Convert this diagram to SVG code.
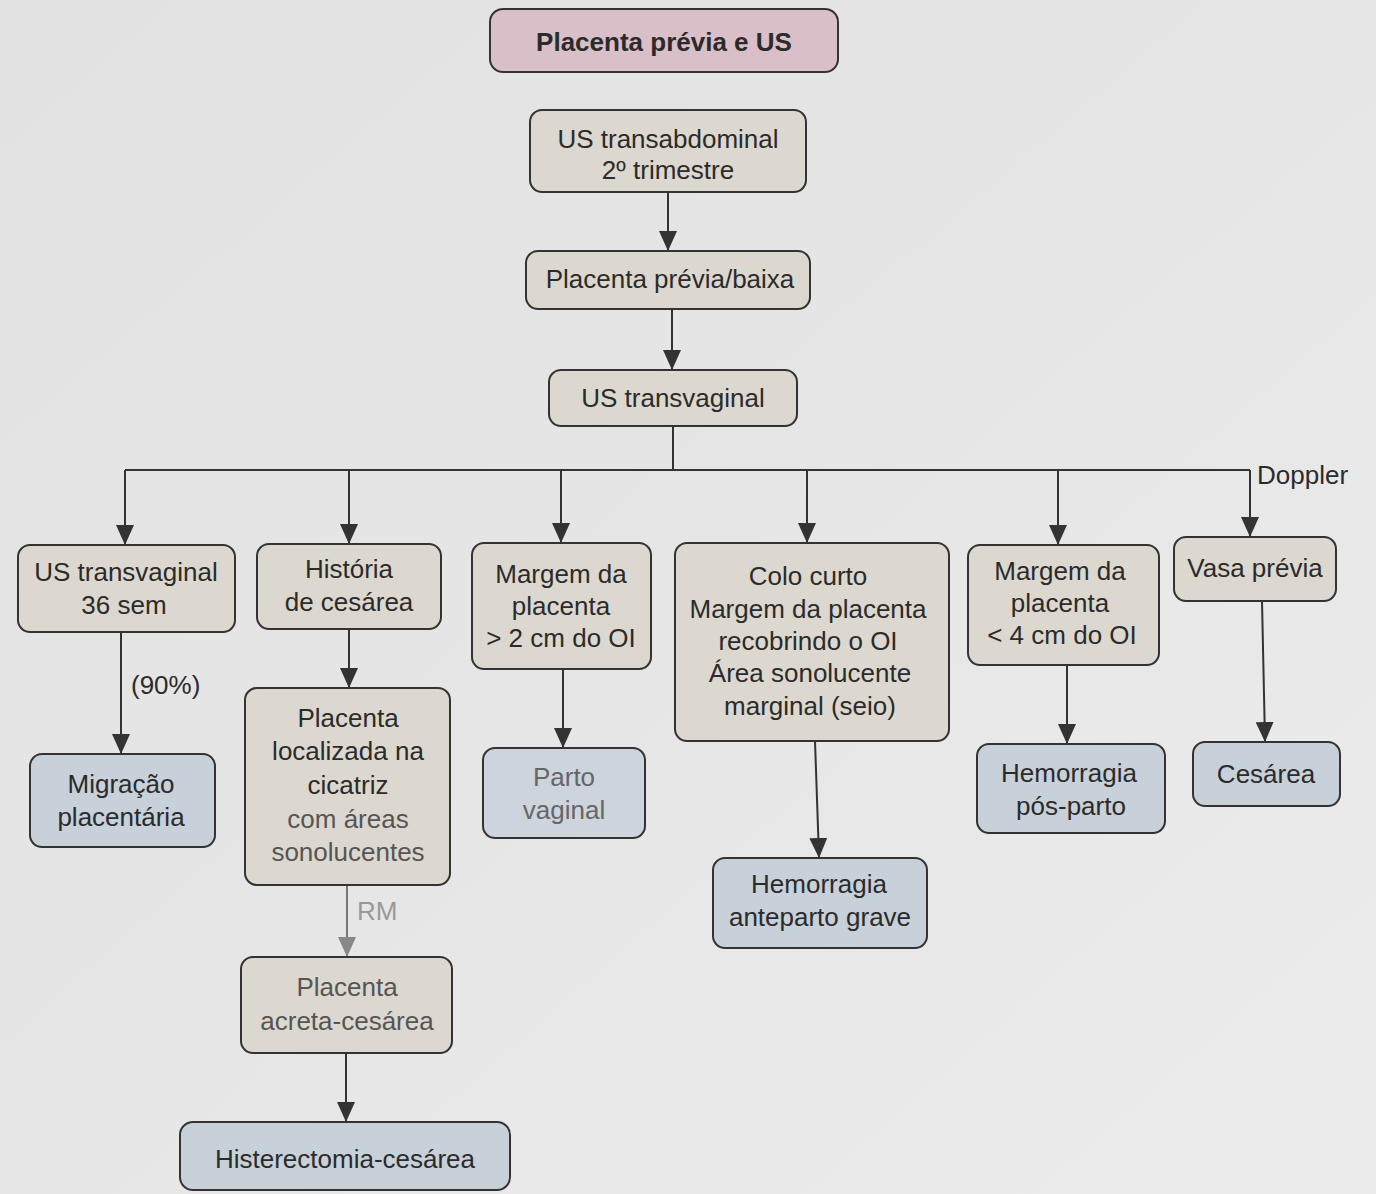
<svg xmlns="http://www.w3.org/2000/svg" width="1376" height="1194" viewBox="0 0 1376 1194">
<defs>
<marker id="ah" markerUnits="userSpaceOnUse" markerWidth="20" markerHeight="18" viewBox="0 0 20 18" refX="19" refY="9" orient="auto">
<path d="M0,0 L20,9 L0,18 Z" fill="#333"/>
</marker>
<marker id="ahg" markerUnits="userSpaceOnUse" markerWidth="20" markerHeight="18" viewBox="0 0 20 18" refX="19" refY="9" orient="auto">
<path d="M0,0 L20,9 L0,18 Z" fill="#888"/>
</marker>
<linearGradient id="bg" x1="0" y1="0" x2="1" y2="1">
<stop offset="0" stop-color="#e2e2e2"/>
<stop offset="0.5" stop-color="#e6e6e7"/>
<stop offset="1" stop-color="#ececec"/>
</linearGradient>
</defs>
<style>
text{font-family:"Liberation Sans",Arial,sans-serif;font-size:26px;fill:#2b2b2b;text-anchor:middle}
.box{fill:#dcd8cf;stroke:#333;stroke-width:2}
.blue{fill:#c8d0da;stroke:#333;stroke-width:2}
.title{fill:#d8bfc8;stroke:#333;stroke-width:2}
.tt{font-weight:bold;font-size:26px}
.lbl{text-anchor:start}
.conn{fill:none;stroke:#333;stroke-width:2}
.fade{fill:#555}
</style>
<rect width="1376" height="1194" fill="url(#bg)"/>

<g id="connectors">
<path class="conn" d="M668,192 V250" marker-end="url(#ah)"/>
<path class="conn" d="M672,309 V369" marker-end="url(#ah)"/>
<path class="conn" d="M673,426 V470"/>
<path class="conn" d="M125,470 H1250"/>
<path class="conn" d="M125,470 V544" marker-end="url(#ah)"/>
<path class="conn" d="M349,470 V543" marker-end="url(#ah)"/>
<path class="conn" d="M561,470 V542" marker-end="url(#ah)"/>
<path class="conn" d="M807,470 V542" marker-end="url(#ah)"/>
<path class="conn" d="M1058,470 V544" marker-end="url(#ah)"/>
<path class="conn" d="M1250,470 V536" marker-end="url(#ah)"/>
<path class="conn" d="M121,632 V753" marker-end="url(#ah)"/>
<path class="conn" d="M349,629 V687" marker-end="url(#ah)"/>
<path class="conn" d="M347,885 V956" style="stroke:#777" marker-end="url(#ahg)"/>
<path class="conn" d="M346,1053 V1121" marker-end="url(#ah)"/>
<path class="conn" d="M563,669 V747" marker-end="url(#ah)"/>
<path class="conn" d="M815,741 L819,857" marker-end="url(#ah)"/>
<path class="conn" d="M1067,665 V743" marker-end="url(#ah)"/>
<path class="conn" d="M1262,601 L1265,741" marker-end="url(#ah)"/>
<text class="lbl" x="1257" y="484">Doppler</text>
<text class="lbl" x="131" y="694">(90%)</text>
<text class="lbl" x="357" y="920" style="fill:#999">RM</text>
</g>

<g id="title">
<rect class="title" x="490" y="9" width="348" height="63" rx="13"/>
<text class="tt" x="664" y="51">Placenta prévia e US</text>
</g>
<g id="n-us-transabdominal">
<rect class="box" x="530" y="110" width="276" height="82" rx="12"/>
<text x="668" y="148">US transabdominal</text>
<text x="668" y="179">2º trimestre</text>
</g>
<g id="n-placenta-previa-baixa">
<rect class="box" x="526" y="251" width="284" height="58" rx="12"/>
<text x="670" y="288">Placenta prévia/baixa</text>
</g>
<g id="n-us-transvaginal">
<rect class="box" x="549" y="370" width="248" height="56" rx="12"/>
<text x="673" y="407">US transvaginal</text>
</g>
<g id="n-us-36">
<rect class="box" x="18" y="545" width="217" height="87" rx="12"/>
<text x="126" y="581">US transvaginal</text>
<text x="124" y="614">36 sem</text>
</g>
<g id="n-historia">
<rect class="box" x="257" y="544" width="184" height="85" rx="12"/>
<text x="349" y="578">História</text>
<text x="349" y="611">de cesárea</text>
</g>
<g id="n-margem-2cm">
<rect class="box" x="472" y="543" width="179" height="126" rx="12"/>
<text x="561" y="583">Margem da</text>
<text x="561" y="615">placenta</text>
<text x="561" y="647">&gt; 2 cm do OI</text>
</g>
<g id="n-colo-curto">
<rect class="box" x="675" y="543" width="274" height="198" rx="12"/>
<text x="808" y="585">Colo curto</text>
<text x="808" y="618">Margem da placenta</text>
<text x="808" y="650">recobrindo o OI</text>
<text x="810" y="682">Área sonolucente</text>
<text x="810" y="715">marginal (seio)</text>
</g>
<g id="n-margem-4cm">
<rect class="box" x="968" y="545" width="191" height="120" rx="12"/>
<text x="1060" y="580">Margem da</text>
<text x="1060" y="612">placenta</text>
<text x="1062" y="644">&lt; 4 cm do OI</text>
</g>
<g id="n-vasa-previa">
<rect class="box" x="1174" y="537" width="162" height="64" rx="12"/>
<text x="1255" y="577">Vasa prévia</text>
</g>
<g id="n-migracao">
<rect class="blue" x="30" y="754" width="185" height="93" rx="12"/>
<text x="121" y="793">Migração</text>
<text x="121" y="826">placentária</text>
</g>
<g id="n-placenta-localizada">
<rect class="box" x="245" y="688" width="205" height="197" rx="12"/>
<text x="348" y="727">Placenta</text>
<text x="348" y="760">localizada na</text>
<text x="348" y="794">cicatriz</text>
<text x="348" y="828" class="fade">com áreas</text>
<text x="348" y="861" class="fade">sonolucentes</text>
</g>
<g id="n-placenta-acreta">
<rect class="box" x="241" y="957" width="211" height="96" rx="12"/>
<text x="347" y="996" class="fade">Placenta</text>
<text x="347" y="1030" class="fade">acreta-cesárea</text>
</g>
<g id="n-histerectomia">
<rect class="blue" x="180" y="1122" width="330" height="68" rx="13"/>
<text x="345" y="1168">Histerectomia-cesárea</text>
</g>
<g id="n-parto-vaginal">
<rect class="blue" x="483" y="748" width="162" height="90" rx="12" style="fill:#cdd4dd"/>
<text x="564" y="786" style="fill:#666">Parto</text>
<text x="564" y="819" style="fill:#666">vaginal</text>
</g>
<g id="n-hemorragia-anteparto">
<rect class="blue" x="713" y="858" width="214" height="90" rx="12"/>
<text x="819" y="893">Hemorragia</text>
<text x="820" y="926">anteparto grave</text>
</g>
<g id="n-hemorragia-pos">
<rect class="blue" x="977" y="744" width="188" height="89" rx="12"/>
<text x="1069" y="782">Hemorragia</text>
<text x="1071" y="815">pós-parto</text>
</g>
<g id="n-cesarea">
<rect class="blue" x="1193" y="742" width="147" height="64" rx="12"/>
<text x="1266" y="783">Cesárea</text>
</g>
</svg>
